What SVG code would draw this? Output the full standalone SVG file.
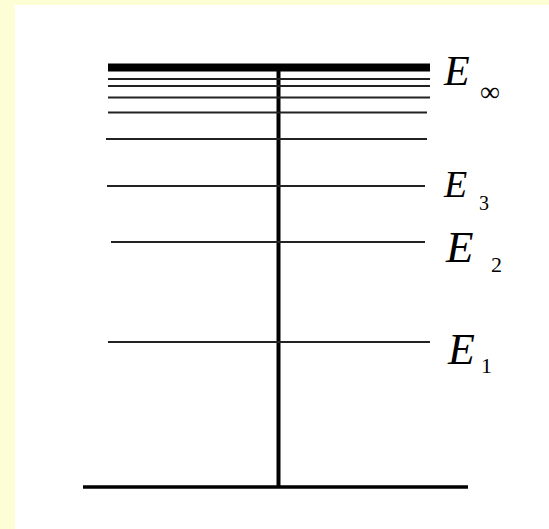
<svg xmlns="http://www.w3.org/2000/svg" width="549" height="529" viewBox="0 0 549 529">
<style>
.lv{stroke:#222;stroke-width:2;fill:none}
.lab{font-family:"Liberation Serif","Times New Roman",serif;fill:#000}
.E{font-style:italic}
</style>
<rect x="0" y="0" width="549" height="529" fill="#fdfdd6"/>
<rect x="15" y="5" width="534" height="524" fill="#ffffff"/>
<g id="connectors">
<line x1="278.5" y1="67" x2="278.5" y2="487" stroke="#000" stroke-width="4"/>
</g>
<g id="levels">
<line x1="108" y1="67.5" x2="430" y2="67.5" stroke="#000" stroke-width="8"/>
<line class="lv" x1="108" y1="79" x2="430" y2="79"/>
<line class="lv" x1="108" y1="86" x2="430" y2="86"/>
<line class="lv" x1="108" y1="97.5" x2="430" y2="97.5"/>
<line class="lv" x1="108" y1="112.5" x2="427" y2="112.5"/>
<line class="lv" x1="106" y1="139" x2="427" y2="139"/>
<line class="lv" x1="107" y1="186" x2="425" y2="186"/>
<line class="lv" x1="111" y1="242" x2="425" y2="242"/>
<line class="lv" x1="108" y1="342" x2="430" y2="342"/>
<line x1="83" y1="487" x2="468" y2="487" stroke="#000" stroke-width="3.5"/>
</g>
<g id="label-Einf" class="lab"><text class="E" x="444" y="85" font-size="42">E</text><text x="480" y="101" font-size="28">∞</text></g>
<g id="label-E3" class="lab"><text class="E" x="444" y="197" font-size="38">E</text><text x="479" y="210" font-size="20">3</text></g>
<g id="label-E2" class="lab"><text class="E" x="446" y="262" font-size="45">E</text><text x="491" y="272" font-size="22">2</text></g>
<g id="label-E1" class="lab"><text class="E" x="448" y="364" font-size="44">E</text><text x="481" y="373" font-size="22">1</text></g>
</svg>
